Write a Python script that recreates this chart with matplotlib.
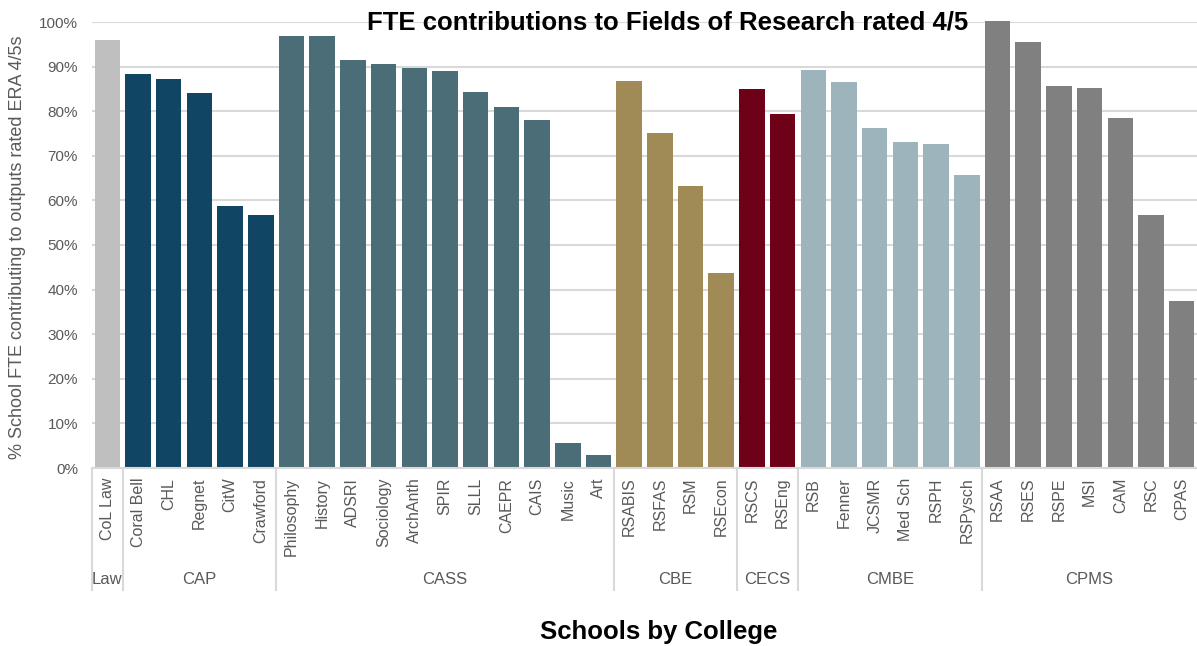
import numpy as np
import matplotlib
matplotlib.use("Agg")
import matplotlib.pyplot as plt
from matplotlib.ticker import FuncFormatter
import matplotlib.transforms as mtransforms

plt.rcParams['font.family'] = ['Liberation Sans', 'DejaVu Sans']

# data
colleges = ["Law", "CAP", "CASS", "CBE", "CECS", "CMBE", "CPMS"]
college_colors = ["#BFBFBF", "#104563", "#4A6D78", "#A08A55", "#6E0018", "#9EB4BC", "#808080"]

schools = [
    ["CoL Law"],
    ["Coral Bell", "CHL", "Regnet", "CitW", "Crawford"],
    ["Philosophy", "History", "ADSRI", "Sociology", "ArchAnth", "SPIR", "SLLL",
     "CAEPR", "CAIS", "Music", "Art"],
    ["RSABIS", "RSFAS", "RSM", "RSEcon"],
    ["RSCS", "RSEng"],
    ["RSB", "Fenner", "JCSMR", "Med Sch", "RSPH", "RSPysch"],
    ["RSAA", "RSES", "RSPE", "MSI", "CAM", "RSC", "CPAS"],
]
values = [
    [96.0],
    [88.3, 87.2, 84.1, 58.7, 56.7],
    [96.9, 96.9, 91.5, 90.6, 89.7, 89.0, 84.3, 80.9, 78.0, 5.7, 2.9],
    [86.8, 75.1, 63.2, 43.7],
    [85.0, 79.4],
    [89.2, 86.5, 76.2, 73.1, 72.6, 65.7],
    [100.2, 95.5, 85.6, 85.2, 78.5, 56.7, 37.4],
]

labels, vals, cols = [], [], []
for g, c in enumerate(college_colors):
    labels += schools[g]
    vals += [v / 100 for v in values[g]]
    cols += [c] * len(schools[g])
x = np.arange(len(labels))

fig = plt.figure(figsize=(11.97, 6.46), dpi=100)
ax = fig.add_axes([92 / 1197, 1 - 468 / 646, 1 - 92 / 1197, 446 / 646])

ax.bar(x, vals, width=0.83, color=cols, zorder=2, clip_on=False)
ax.set_xlim(-0.5, len(labels) - 0.5)
ax.set_ylim(0, 1)

ax.set_yticks(np.arange(0, 1.01, 0.1))
ax.yaxis.set_major_formatter(FuncFormatter(lambda v, p: f"{v * 100:.0f}%"))
ax.grid(axis='y', color='#D9D9D9', lw=1.5, zorder=0)
for s in ['top', 'right', 'left']:
    ax.spines[s].set_visible(False)
ax.spines['bottom'].set_color('#D9D9D9')
ax.spines['bottom'].set_linewidth(1.5)
ax.tick_params(axis='y', length=0, labelsize=11, labelcolor='#595959', pad=10)
ax.tick_params(axis='x', length=0, labelsize=11.5, labelcolor='#595959', pad=7)
ax.set_xticks(x)
ax.set_xticklabels(labels, rotation=90, va='top')

# college group separators and names
trans = mtransforms.blended_transform_factory(ax.transData, ax.transAxes)
start = 0
bounds = [-0.5]
for g, name in enumerate(colleges):
    n = len(schools[g])
    end = start + n
    if end < len(labels):
        bounds.append(end - 0.5)
    ax.text((start + end - 1) / 2, -0.251, name, transform=trans, ha='center',
            va='center', fontsize=12, color='#595959')
    start = end
for b in bounds:
    ax.plot([b, b], [0, -0.2735], transform=trans, color='#D9D9D9', lw=1.5,
            clip_on=False)

ax.set_ylabel("% School FTE contributing to outputs rated ERA 4/5s", fontsize=13,
              color='#595959')
ax.yaxis.set_label_coords(-0.06, 0.495)
fig.text(668 / 1197, 1 - 22 / 646, "FTE contributions to Fields of Research rated 4/5",
         ha='center', va='center', fontsize=18.5, fontweight='bold')
fig.text(659 / 1197, 1 - 632 / 646, "Schools by College", ha='center', va='center',
         fontsize=18.5, fontweight='bold')

fig.savefig("out.png", dpi=100)
